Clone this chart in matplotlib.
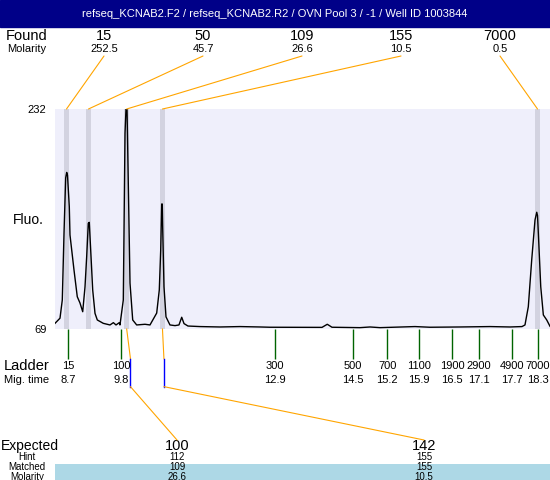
#electroferograma.py
#Reproduce el electroferograma de un pozo (fluorescencia vs tiempo de migración)

import matplotlib.pyplot as plt
from matplotlib.patches import ConnectionPatch, Rectangle

plt.rcParams['font.family'] = ['Liberation Sans', 'DejaVu Sans']

titulo = 'refseq_KCNAB2.F2 / refseq_KCNAB2.R2 / OVN Pool 3 / -1 / Well ID 1003844'

# traza (tiempo de migración en min, fluorescencia)
t_traza = [8.449, 8.551, 8.598, 8.633, 8.667, 8.688, 8.704, 8.741, 8.755, 8.837, 8.904,
           8.959, 9.015, 9.062, 9.096, 9.129, 9.149, 9.178, 9.219, 9.266, 9.313, 9.435,
           9.572, 9.641, 9.695, 9.762, 9.776, 9.844, 9.879, 9.899, 9.920, 9.946, 9.981,
           10.036, 10.117, 10.287, 10.389, 10.526, 10.579, 10.608, 10.628, 10.640, 10.648,
           10.675, 10.716, 10.797, 10.900, 10.981, 11.037, 11.084, 11.165, 11.410, 11.819,
           12.227, 12.636, 12.840, 13.902, 14.010, 14.106, 14.678, 14.883, 15.087, 15.802,
           16.108, 16.721, 17.334, 17.742, 17.987, 18.048, 18.116, 18.185, 18.253, 18.288,
           18.304, 18.321, 18.370, 18.423, 18.492, 18.559]
f_traza = [73.2, 77.0, 90.5, 140.0, 181.0, 185.0, 183.0, 159.6, 138.7, 112.7, 92.9,
           88.3, 81.8, 100.3, 122.6, 147.3, 148.0, 127.5, 97.9, 80.6, 75.7, 73.2,
           72.0, 73.7, 72.0, 73.7, 72.0, 90.5, 214.0, 232.0, 232.0, 177.0, 103.0,
           75.7, 72.0, 72.5, 72.0, 80.8, 97.9, 127.5, 161.6, 161.6, 144.8,
           100.3, 78.0, 72.0, 71.5, 72.0, 77.7, 73.0, 71.2, 70.8, 70.5,
           70.8, 70.5, 70.3, 70.2, 72.5, 70.3, 70.0, 70.5, 70.0, 70.8,
           70.3, 70.5, 70.8, 70.5, 70.8, 72.0, 85.5, 120.0, 149.8, 155.5,
           153.0, 139.9, 100.3, 79.4, 75.7, 71.0]

# picos encontrados
found_tam = ['15', '50', '109', '155', '7000']
found_mol = ['252.5', '45.7', '26.6', '10.5', '0.5']
found_t = [8.684, 9.133, 9.913, 10.644, 18.304]

# escalera
ladder_tam = ['15', '100', '300', '500', '700', '1100', '1900', '2900', '4900', '7000']
ladder_t = [8.7, 9.8, 12.9, 14.5, 15.2, 15.9, 16.5, 17.1, 17.7, 18.3]
ladder_pos = [8.717, 9.800, 12.945, 14.538, 15.233, 15.886, 16.560, 17.112, 17.786, 18.317]

# esperados
esp_tam = ['100', '142']
esp_hint = ['112', '155']
esp_match = ['109', '155']
esp_mol = ['26.6', '10.5']
esp_pico_t = [9.913, 10.644]
esp_marca_t = [9.990, 10.674]

fig = plt.figure(figsize=(5.5, 4.8), dpi=100)
base = fig.add_axes([0, 0, 1, 1])
base.set_xlim(0, 550)
base.set_ylim(480, 0)
base.axis('off')

ax = fig.add_axes([55/550, (480-329)/480, 495/550, 220/480])
ax.set_xlim(8.449, 18.559)
ax.set_ylim(69, 232)
ax.set_facecolor('#efeffb')
for s in ax.spines.values():
	s.set_visible(False)
ax.set_xticks([])
ax.set_yticks([69, 232])
ax.set_yticklabels(['69', '232'], fontsize=8)
ax.tick_params(axis='y', length=0, pad=6)

# barra de título
base.add_patch(Rectangle((0, 0), 550, 27, color='#000088'))
base.text(275, 14, titulo, color='white', fontsize=8, ha='center', va='center')

# bandas grises y traza
for t in found_t:
	ax.axvspan(t - 0.05, t + 0.05, color='#d3d3e0', lw=0)
ax.plot(t_traza, f_traza, color='black', lw=1)

base.text(13, 220, 'Fluo.', fontsize=10, va='center')

# encontrados
base.text(27, 36, 'Found', fontsize=10.5, ha='center', va='center')
base.text(27, 49, 'Molarity', fontsize=8, ha='center', va='center')
x_found = [104, 203, 302, 401, 500]
for x, tam, mol, t in zip(x_found, found_tam, found_mol, found_t):
	base.text(x, 36, tam, fontsize=10.5, ha='center', va='center')
	base.text(x, 49, mol, fontsize=8, ha='center', va='center')
	con = ConnectionPatch(xyA=(x, 56), coordsA=base.transData, xyB=(t, 232), coordsB=ax.transData,
			color='orange', lw=0.8)
	fig.add_artist(con)

# escalera
tr = ax.get_xaxis_transform()
ax.vlines(ladder_pos, -0.135, 0, transform=tr, color='#006400', lw=1, clip_on=False)
base.text(27, 366, 'Ladder', fontsize=10.5, ha='center', va='center')
base.text(27, 380, 'Mig. time', fontsize=8, ha='center', va='center')
for pos, tam, t in zip(ladder_pos, ladder_tam, ladder_t):
	ax.text(pos, -0.166, tam, transform=tr, fontsize=8, ha='center', va='center')
	ax.text(pos, -0.23, f'{t:.1f}', transform=tr, fontsize=8, ha='center', va='center')

# esperados
base.text(1, 446, 'Expected', fontsize=10, ha='left', va='center')
base.text(27, 457, 'Hint', fontsize=7, ha='center', va='center')
base.add_patch(Rectangle((55, 464), 495, 16, color='#add8e6', lw=0))
base.text(27, 467, 'Matched', fontsize=7, ha='center', va='center')
base.text(27, 476.5, 'Molarity', fontsize=7, ha='center', va='center')
x_esp = [177, 424]
for x, tam, hint, match, mol, tp, tm in zip(x_esp, esp_tam, esp_hint, esp_match, esp_mol,
		esp_pico_t, esp_marca_t):
	ax.plot([tp, tm], [0, -0.135], transform=tr, color='orange', lw=0.8, clip_on=False)
	ax.plot([tm, tm], [-0.135, -0.262], transform=tr, color='blue', lw=1, clip_on=False)
	con = ConnectionPatch(xyA=(tm, -0.262), coordsA=tr, xyB=(x, 440), coordsB=base.transData,
			color='orange', lw=0.8)
	fig.add_artist(con)
	base.text(x, 446, tam, fontsize=10.5, ha='center', va='center')
	base.text(x, 457, hint, fontsize=7, ha='center', va='center')
	base.text(x, 467, match, fontsize=7, ha='center', va='center')
	base.text(x, 476.5, mol, fontsize=7, ha='center', va='center')

plt.savefig('out.png', dpi=100)
